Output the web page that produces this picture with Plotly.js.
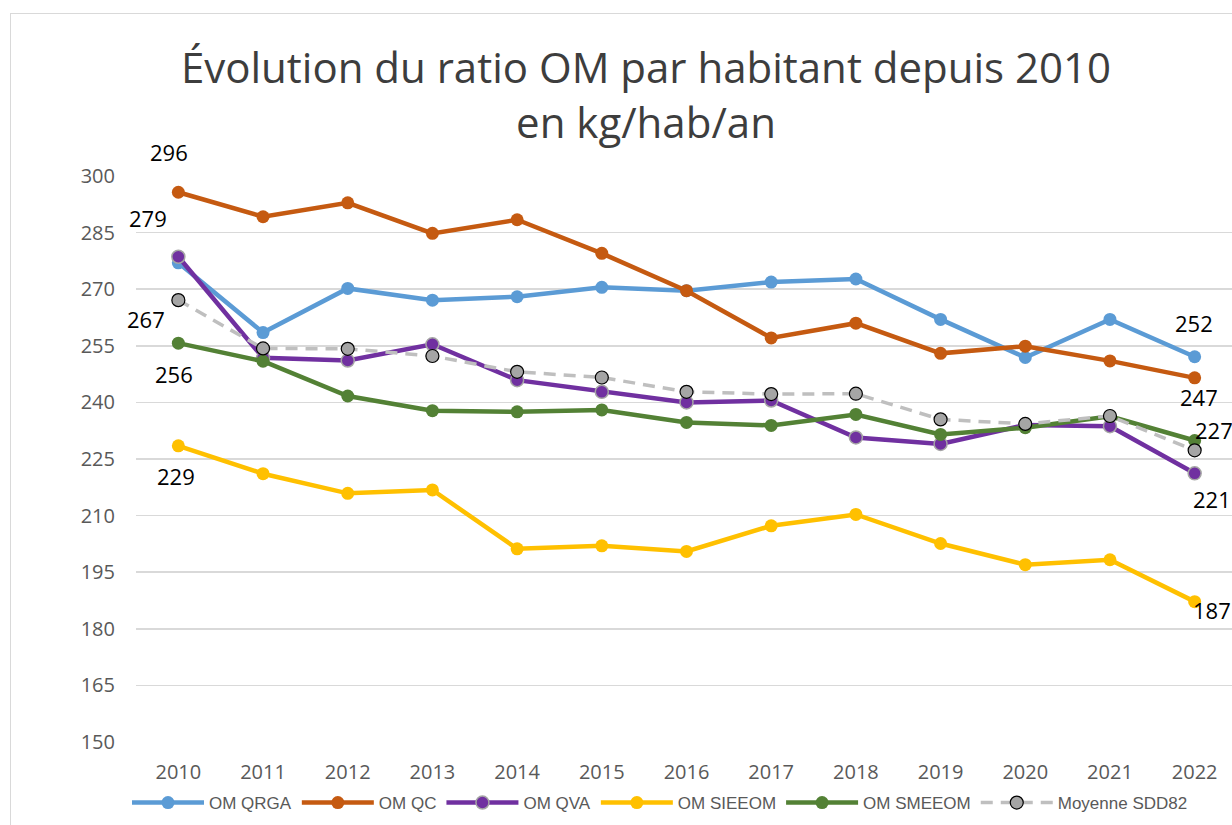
<!DOCTYPE html>
<html>
<head>
<meta charset="utf-8">
<script src="https://cdn.plot.ly/plotly-3.0.1.min.js"></script>
<style>
html,body{margin:0;padding:0;background:#fff;overflow:hidden;width:1232px;height:825px;}
#chart{position:absolute;left:0;top:0;width:1250px;height:840px;}
#frame{position:absolute;left:10px;top:13px;width:1300px;height:900px;border:1.5px solid #d9d9d9;pointer-events:none;z-index:5;}
</style>
</head>
<body>
<div id="chart"></div>
<div id="frame"></div>
<script>
const years = [2010,2011,2012,2013,2014,2015,2016,2017,2018,2019,2020,2021,2022];
const omQRGA   = [277.0,258.5,270.2,267.1,268.0,270.5,269.6,271.9,272.7,262.0,251.9,262.0,252.1];
const omQC     = [295.7,289.2,292.9,284.8,288.4,279.5,269.6,257.1,261.0,253.0,254.9,251.0,246.5];
const omQVA    = [278.6,251.8,251.1,255.4,245.9,242.8,240.0,240.5,230.7,229.0,234.0,233.7,221.2];
const omSIEEOM = [228.5,221.1,215.9,216.8,201.2,202.0,200.5,207.3,210.3,202.6,197.0,198.3,187.2];
const omSMEEOM = [255.7,250.9,241.7,237.8,237.5,238.0,234.7,233.9,236.8,231.5,233.3,236.3,229.9];
const moyenne  = [267.1,254.3,254.2,252.3,248.1,246.6,242.8,242.2,242.3,235.5,234.3,236.4,227.3];
const seriesNames = ['OM QRGA','OM QC','OM QVA','OM SIEEOM','OM SMEEOM','Moyenne SDD82'];
const yTicks = [150,165,180,195,210,225,240,255,270,285,300];
const titleText = 'Évolution du ratio OM par habitant depuis 2010<br>en kg/hab/an';

// data labels: [series values, index, text, xshift, yshift]
const labels = [
  [omQC, 0, '296', -9, 40],
  [omQVA, 0, '279', -30, 39],
  [moyenne, 0, '267', -32, -19],
  [omSMEEOM, 0, '256', -4, -31],
  [omSIEEOM, 0, '229', -2, -30],
  [omQRGA, 12, '252', -1, 34],
  [omQC, 12, '247', 4, -19],
  [moyenne, 12, '227', 19, 20],
  [omQVA, 12, '221', 17, -26],
  [omSIEEOM, 12, '187', 17, -8]
];

const lw = 4.5, ms = 13;
const traces = [
  {x:years,y:omQRGA,name:seriesNames[0],mode:'lines+markers',line:{color:'#5b9bd5',width:lw},marker:{color:'#5b9bd5',size:ms}},
  {x:years,y:omQC,name:seriesNames[1],mode:'lines+markers',line:{color:'#c55a11',width:lw},marker:{color:'#c55a11',size:ms}},
  {x:years,y:omQVA,name:seriesNames[2],mode:'lines+markers',line:{color:'#7030a0',width:lw},marker:{color:'#7030a0',size:ms,line:{color:'#a5a5a5',width:1.5}}},
  {x:years,y:omSIEEOM,name:seriesNames[3],mode:'lines+markers',line:{color:'#ffc000',width:lw},marker:{color:'#ffc000',size:ms}},
  {x:years,y:omSMEEOM,name:seriesNames[4],mode:'lines+markers',line:{color:'#538135',width:lw},marker:{color:'#538135',size:ms}},
  {x:years,y:moyenne,name:seriesNames[5],mode:'lines+markers',line:{color:'#bfbfbf',width:3.5,dash:'12px,8px'},marker:{color:'#a5a5a5',size:ms,line:{color:'#000',width:1.2}}}
];

const annotations = labels.map(l => ({
  x: years[l[1]], y: l[0][l[1]], text: l[2], showarrow:false,
  xshift:l[3], yshift:l[4], font:{family:'Open Sans, sans-serif', size:22, color:'#000'}
}));

const W = 1250, H = 840;
const layout = {
  width:W, height:H,
  margin:{l:136, r:W-1237, t:176, b:H-742},
  paper_bgcolor:'#fff', plot_bgcolor:'#fff',
  showlegend:true,
  title:{text:titleText, x:646/W, xanchor:'center', xref:'container', y:1-83/H, yanchor:'middle', yref:'container',
         font:{family:'Open Sans, sans-serif', size:42, color:'#3d3d3d'}},
  xaxis:{range:[2009.5,2022.5], tickvals:years, ticktext:years.map(String), showgrid:false, zeroline:false,
         showline:false, ticks:'', tickfont:{family:'Open Sans, sans-serif', size:20, color:'#595959'}, ticklabelstandoff:16, fixedrange:true},
  yaxis:{range:[150,300], tickvals:yTicks, showgrid:true, gridcolor:'#d9d9d9', gridwidth:1.5, zeroline:false, showline:false,
         ticks:'', tickfont:{family:'Open Sans, sans-serif', size:20, color:'#595959'}, ticklabelstandoff:20},
  legend:{orientation:'h', x:(660-136)/(1237-136), xanchor:'center', y:-61/566, yanchor:'middle',
          font:{family:'Liberation Sans Narrow, Liberation Sans, sans-serif', size:17, color:'#595959'}, itemwidth:72, bgcolor:'rgba(0,0,0,0)'},
  annotations: annotations
};

Plotly.newPlot('chart', traces, layout, {displayModeBar:false, staticPlot:true});
</script>
</body>
</html>
